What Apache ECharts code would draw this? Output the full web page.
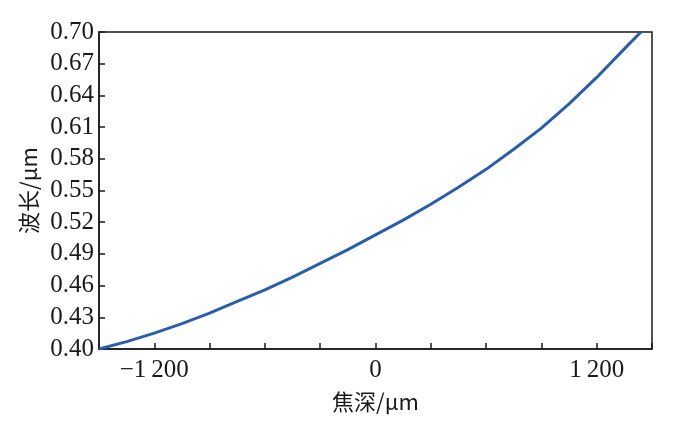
<!DOCTYPE html>
<html>
<head>
<meta charset="utf-8">
<script src="https://cdn.jsdelivr.net/npm/echarts@6/dist/echarts.min.js"></script>
<style>
    html, body { margin: 0; padding: 0; background: #fff; }
    #chart { width: 677px; height: 436px; }
</style>
</head>
<body>
<div id="chart"></div>
<script>
// focal depth (um) vs wavelength (um)
const depth = [-1500, -1350, -1200, -1050, -900, -750, -600, -450, -300, -150,
    0, 150, 300, 450, 600, 750, 900, 1050, 1200, 1350, 1440];
const wavelength = [0.400, 0.407, 0.415, 0.424, 0.434, 0.445, 0.456, 0.468, 0.481, 0.494,
    0.508, 0.522, 0.537, 0.553, 0.570, 0.589, 0.609, 0.632, 0.657, 0.684, 0.700];

// only these x ticks carry a label
const xLabels = { "-1200": "\u22121\u2009200", "0": "0", "1200": "1\u2009200" };

const font = "'Liberation Serif', 'Times New Roman', serif";
const cjkFont = "'Noto Sans CJK SC', 'Liberation Serif', serif";
const ink = "#1a1a1a";

const chart = echarts.init(document.getElementById("chart"));

chart.setOption({
    animation: false,
    backgroundColor: "#fff",
    grid: {
        left: 99,
        right: 25,
        top: 32,
        bottom: 87,
        show: true,
        borderColor: ink,
        borderWidth: 1.5,
        backgroundColor: "transparent"
    },
    xAxis: {
        type: "value",
        min: -1500,
        max: 1500,
        interval: 300,
        name: "焦深/μm",
        nameLocation: "middle",
        nameGap: 42,
        nameTextStyle: { fontFamily: cjkFont, fontSize: 22, color: ink },
        axisLine: { onZero: false, lineStyle: { color: ink, width: 1.5 } },
        axisTick: { inside: true, length: 6, lineStyle: { color: ink, width: 1.5 } },
        axisLabel: {
            margin: 9,
            fontFamily: font,
            fontSize: 25,
            color: ink,
            formatter: (v) => xLabels[String(v)] || ""
        },
        splitLine: { show: false }
    },
    yAxis: {
        type: "value",
        min: 0.40,
        max: 0.70,
        interval: 0.03,
        name: "波长/μm",
        nameLocation: "middle",
        nameGap: 57,
        nameTextStyle: { fontFamily: cjkFont, fontSize: 22, color: ink },
        axisLine: { onZero: false, lineStyle: { color: ink, width: 1.5 } },
        axisTick: { inside: true, length: 6, lineStyle: { color: ink, width: 1.5 } },
        axisLabel: {
            margin: 5,
            fontFamily: font,
            fontSize: 25,
            color: ink,
            formatter: (v) => v.toFixed(2)
        },
        splitLine: { show: false }
    },
    series: [{
        type: "line",
        data: depth.map((d, i) => [d, wavelength[i]]),
        smooth: false,
        showSymbol: false,
        lineStyle: { color: "#2b5ea8", width: 3, join: "round" }
    }]
});
</script>
</body>
</html>
